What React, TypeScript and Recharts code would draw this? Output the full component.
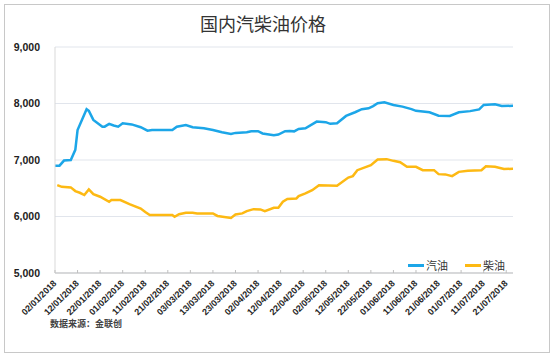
import React from 'react';
import { CartesianGrid, Line, LineChart, XAxis, YAxis } from 'recharts';

// days counted from 02/01/2018
const tickDays = [0, 10, 20, 30, 40, 50, 60, 70, 80, 90, 100, 110, 120, 130, 140, 150, 160, 170, 180, 190, 200];
const tickLabels = [
  '02/01/2018', '12/01/2018', '22/01/2018', '01/02/2018', '11/02/2018', '21/02/2018', '03/03/2018',
  '13/03/2018', '23/03/2018', '02/04/2018', '12/04/2018', '22/04/2018', '02/05/2018', '12/05/2018',
  '22/05/2018', '01/06/2018', '11/06/2018', '21/06/2018', '01/07/2018', '11/07/2018', '21/07/2018',
];
const yTicks = [5000, 6000, 7000, 8000, 9000];
const seriesNames = ['汽油', '柴油'];

const gasolineDays = [
  0, 2, 4, 7, 9, 10, 14, 15, 17, 21, 22, 24, 26, 28, 30, 34, 38, 41, 43, 52, 54, 58, 61, 66, 70, 74, 78,
  80, 85, 87, 90, 92, 97, 99, 102, 104, 106, 108, 111, 116, 120, 122, 125, 129, 133, 136, 139, 141, 143,
  146, 150, 154, 158, 160, 166, 170, 175, 179, 184, 188, 190, 195, 198, 203,
];
const gasolineValues = [
  6900, 6900, 6990, 7000, 7180, 7530, 7900, 7870, 7710, 7590, 7590, 7640, 7610, 7590, 7650, 7630, 7580,
  7520, 7530, 7530, 7590, 7620, 7580, 7560, 7530, 7490, 7460, 7480, 7490, 7510, 7510, 7470, 7440, 7450,
  7510, 7515, 7507, 7550, 7560, 7680, 7670, 7640, 7650, 7780, 7845, 7900, 7915, 7955, 8005, 8020, 7975,
  7945, 7900, 7870, 7845, 7785, 7780, 7845, 7865, 7895, 7975, 7985, 7955, 7960,
];

const dieselDays = [
  1, 3, 7, 9, 11, 13, 15, 17, 20, 24, 25, 29, 33, 38, 40, 42, 52, 53, 55, 58, 61, 63, 70, 72, 78, 80, 83,
  85, 88, 91, 93, 97, 99, 101, 103, 107, 108, 111, 114, 117, 125, 130, 132, 134, 140, 143, 147, 150, 153,
  156, 160, 163, 168, 170, 173, 176, 179, 183, 189, 191, 195, 199, 203,
];
const dieselValues = [
  6555, 6525, 6515, 6450, 6420, 6380, 6480, 6395, 6350, 6260, 6290, 6290, 6220, 6140, 6080, 6025, 6025,
  5995, 6040, 6065, 6065, 6055, 6055, 6010, 5975, 6035, 6055, 6095, 6130, 6125, 6095, 6155, 6155, 6260,
  6310, 6320, 6360, 6410, 6465, 6555, 6545, 6690, 6715, 6820, 6910, 7010, 7015, 6985, 6960, 6880, 6880,
  6820, 6820, 6750, 6745, 6715, 6790, 6810, 6820, 6890, 6880, 6840, 6845,
];

const gasolineData = gasolineDays.map((day, i) => ({ day, value: gasolineValues[i] }));
const dieselData = dieselDays.map((day, i) => ({ day, value: dieselValues[i] }));

const BLUE = '#1ca6e8';
const GOLD = '#fdb913';
const colors = [BLUE, GOLD];

const DateTick = (props: any) => {
  const { x, y, payload } = props;
  const label = tickLabels[tickDays.indexOf(payload.value)];
  return (
    <g>
      <line x1={x} x2={x} y1={y - 3} y2={y} stroke='#bfbfbf' />
      <text
        x={x + 2}
        y={y + 11}
        transform={`rotate(-45, ${x + 2}, ${y + 11})`}
        textAnchor='end'
        fontSize={9}
        fontWeight='bold'
        fontFamily='Liberation Sans'
        fill='#262626'
      >
        {label}
      </text>
    </g>
  );
};

const App = () => {
  return (
    <div style={{ position: 'absolute', left: 0, top: 0, width: 557, height: 356, background: '#fff' }}>
      <div
        style={{
          position: 'absolute',
          left: 4,
          top: 4,
          width: 544,
          height: 347,
          border: '1px solid #c8c8c8',
        }}
      />
      <div
        style={{
          position: 'absolute',
          top: 10,
          left: 0,
          width: 526,
          textAlign: 'center',
          fontFamily: 'Noto Sans CJK SC',
          fontSize: 18,
          color: '#333',
        }}
      >
        国内汽柴油价格
      </div>
      <div
        style={{
          position: 'absolute',
          top: 317,
          left: 50,
          fontFamily: 'Noto Sans CJK SC',
          fontSize: 9,
          fontWeight: 'bold',
          color: '#444',
        }}
      >
        数据来源：金联创
      </div>
      <div
        style={{
          position: 'absolute',
          top: 257,
          left: 408,
          display: 'flex',
          fontFamily: 'Noto Sans CJK SC',
          fontSize: 11,
          color: '#333',
          zIndex: 2,
        }}
      >
        {seriesNames.map((name, i) => (
          <div key={name} style={{ display: 'flex', alignItems: 'center', marginRight: 17 }}>
            <span style={{ display: 'inline-block', width: 16, height: 3, background: colors[i], marginRight: 2 }} />
            {name}
          </div>
        ))}
      </div>
      <LineChart
        width={557}
        height={356}
        margin={{ top: 47, right: 44, left: 5, bottom: 33 }}
        style={{ position: 'absolute', left: 0, top: 0 }}
      >
        <CartesianGrid vertical={false} stroke='#e1e5ec' />
        <XAxis
          type='number'
          dataKey='day'
          domain={[0, 203]}
          ticks={tickDays}
          interval={0}
          tick={<DateTick />}
          tickLine={false}
          tickSize={0}
          tickMargin={0}
          axisLine={{ stroke: '#bfbfbf' }}
          height={50}
          allowDuplicatedCategory={false}
        />
        <YAxis
          type='number'
          domain={[5000, 9000]}
          ticks={yTicks}
          tickFormatter={(v: number) => v.toLocaleString('en-US')}
          tickLine={false}
          axisLine={{ stroke: '#d9d9d9' }}
          width={50}
          tickMargin={9}
          tick={{ fontSize: 10.5, fontWeight: 'bold', fill: '#222', fontFamily: 'Liberation Sans' }}
        />
        <Line
          data={gasolineData}
          dataKey='value'
          name={seriesNames[0]}
          stroke={BLUE}
          strokeWidth={2.5}
          dot={false}
          isAnimationActive={false}
        />
        <Line
          data={dieselData}
          dataKey='value'
          name={seriesNames[1]}
          stroke={GOLD}
          strokeWidth={2.5}
          dot={false}
          isAnimationActive={false}
        />
      </LineChart>
    </div>
  );
};

export default App;
